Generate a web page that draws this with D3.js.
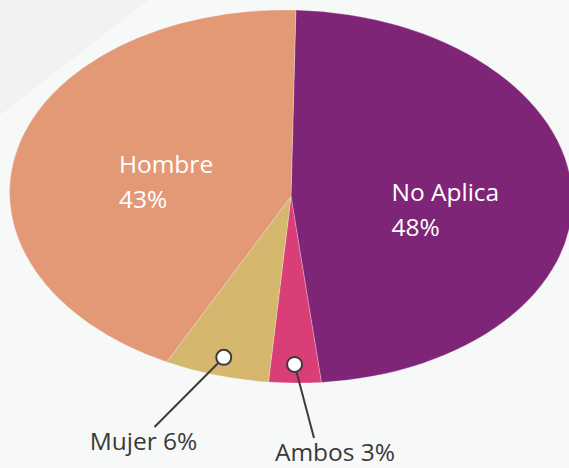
<!DOCTYPE html>
<html>
<head>
<meta charset="utf-8">
<script src="https://cdn.jsdelivr.net/npm/d3@7"></script>
<style>
  html, body { margin: 0; padding: 0; background: #F7F8F8; }
  svg { display: block; }
  text { font-family: "Open Sans", "Noto Sans", sans-serif; }
</style>
</head>
<body>
<svg id="chart" width="569" height="468"></svg>
<script>
// ---- data ----
const categories = ["No Aplica", "Ambos", "Mujer", "Hombre"];
const values = [48, 3, 6, 43];
const percentLabels = ["48%", "3%", "6%", "43%"];
const colors = ["#7F2577", "#DA3E76", "#D5B76E", "#E49976"];
const insideLabels = ["No Aplica", "Hombre"];
const outsideLabels = ["Mujer", "Ambos"];

// ---- layout ----
const W = 569, H = 468;
const cx = 291, cy = 196.5, rx = 281.5, ry = 186.5, tilt = 1.5;
const R = 100;
const startDeg = 0;

const svg = d3.select("#chart");

// subtle background shading
svg.append("rect").attr("width", W).attr("height", H).attr("fill", "#F7F8F8");
svg.append("path").attr("d", "M0,0 L148,0 L0,115 Z").attr("fill", "#F1F2F2");

const pie = d3.pie().sort(null).value(d => d.value)
  .startAngle(startDeg * Math.PI / 180)
  .endAngle(startDeg * Math.PI / 180 + 2 * Math.PI);
const arc = d3.arc().innerRadius(0).outerRadius(R);

const data = categories.map((c, i) => ({ name: c, value: values[i], pct: percentLabels[i], color: colors[i] }));
const arcs = pie(data);

const g = svg.append("g")
  .attr("transform", `translate(${cx},${cy}) rotate(${tilt}) scale(${rx / R},${ry / R})`);

g.selectAll("path.slice").data(arcs).enter().append("path")
  .attr("class", "slice")
  .attr("d", arc)
  .attr("fill", d => d.data.color)
  .attr("stroke", "rgba(255,255,255,0.35)")
  .attr("stroke-width", 0.3);

// map an angle / radius fraction onto the tilted ellipse in screen space
function project(angle, frac) {
  const lx = rx * frac * Math.sin(angle);
  const ly = -ry * frac * Math.cos(angle);
  const t = tilt * Math.PI / 180;
  return [cx + lx * Math.cos(t) - ly * Math.sin(t), cy + lx * Math.sin(t) + ly * Math.cos(t)];
}
const mid = d => (d.startAngle + d.endAngle) / 2;

// inside labels
const insideCfg = { "No Aplica": { frac: 0.56, dx: -57, dy: 7 }, "Hombre": { frac: 0.45, dx: -49, dy: -2 } };
arcs.filter(d => insideLabels.includes(d.data.name)).forEach(d => {
  const c = insideCfg[d.data.name];
  const p = project(mid(d), c.frac);
  const t = svg.append("text").attr("fill", "#FFFFFF").attr("font-size", 24.5)
    .attr("x", p[0] + c.dx).attr("y", p[1] + c.dy);
  t.append("tspan").attr("x", p[0] + c.dx).attr("dy", 0).text(d.data.name);
  t.append("tspan").attr("x", p[0] + c.dx).attr("dy", 35).text(d.data.pct);
});

// outside labels with leader lines
const outsideCfg = {
  "Mujer": { frac: 0.9, end: [154.5, 427], tx: 143.5, ty: 450 },
  "Ambos": { frac: 0.9, end: [314, 438], tx: 335, ty: 461 }
};
arcs.filter(d => outsideLabels.includes(d.data.name)).forEach(d => {
  const c = outsideCfg[d.data.name];
  const p = project(mid(d), c.frac);
  const r = 7.5;
  const ang = Math.atan2(c.end[1] - p[1], c.end[0] - p[0]);
  svg.append("line")
    .attr("x1", p[0] + r * Math.cos(ang)).attr("y1", p[1] + r * Math.sin(ang))
    .attr("x2", c.end[0]).attr("y2", c.end[1])
    .attr("stroke", "#3C3C3C").attr("stroke-width", 2);
  svg.append("circle").attr("cx", p[0]).attr("cy", p[1]).attr("r", r)
    .attr("fill", "#FFFFFF").attr("stroke", "#3C3C3C").attr("stroke-width", 2);
  svg.append("text").attr("x", c.tx).attr("y", c.ty).attr("text-anchor", "middle")
    .attr("font-size", 24.5).attr("fill", "#3A3A3A")
    .text(d.data.name + " " + d.data.pct);
});
</script>
</body>
</html>
